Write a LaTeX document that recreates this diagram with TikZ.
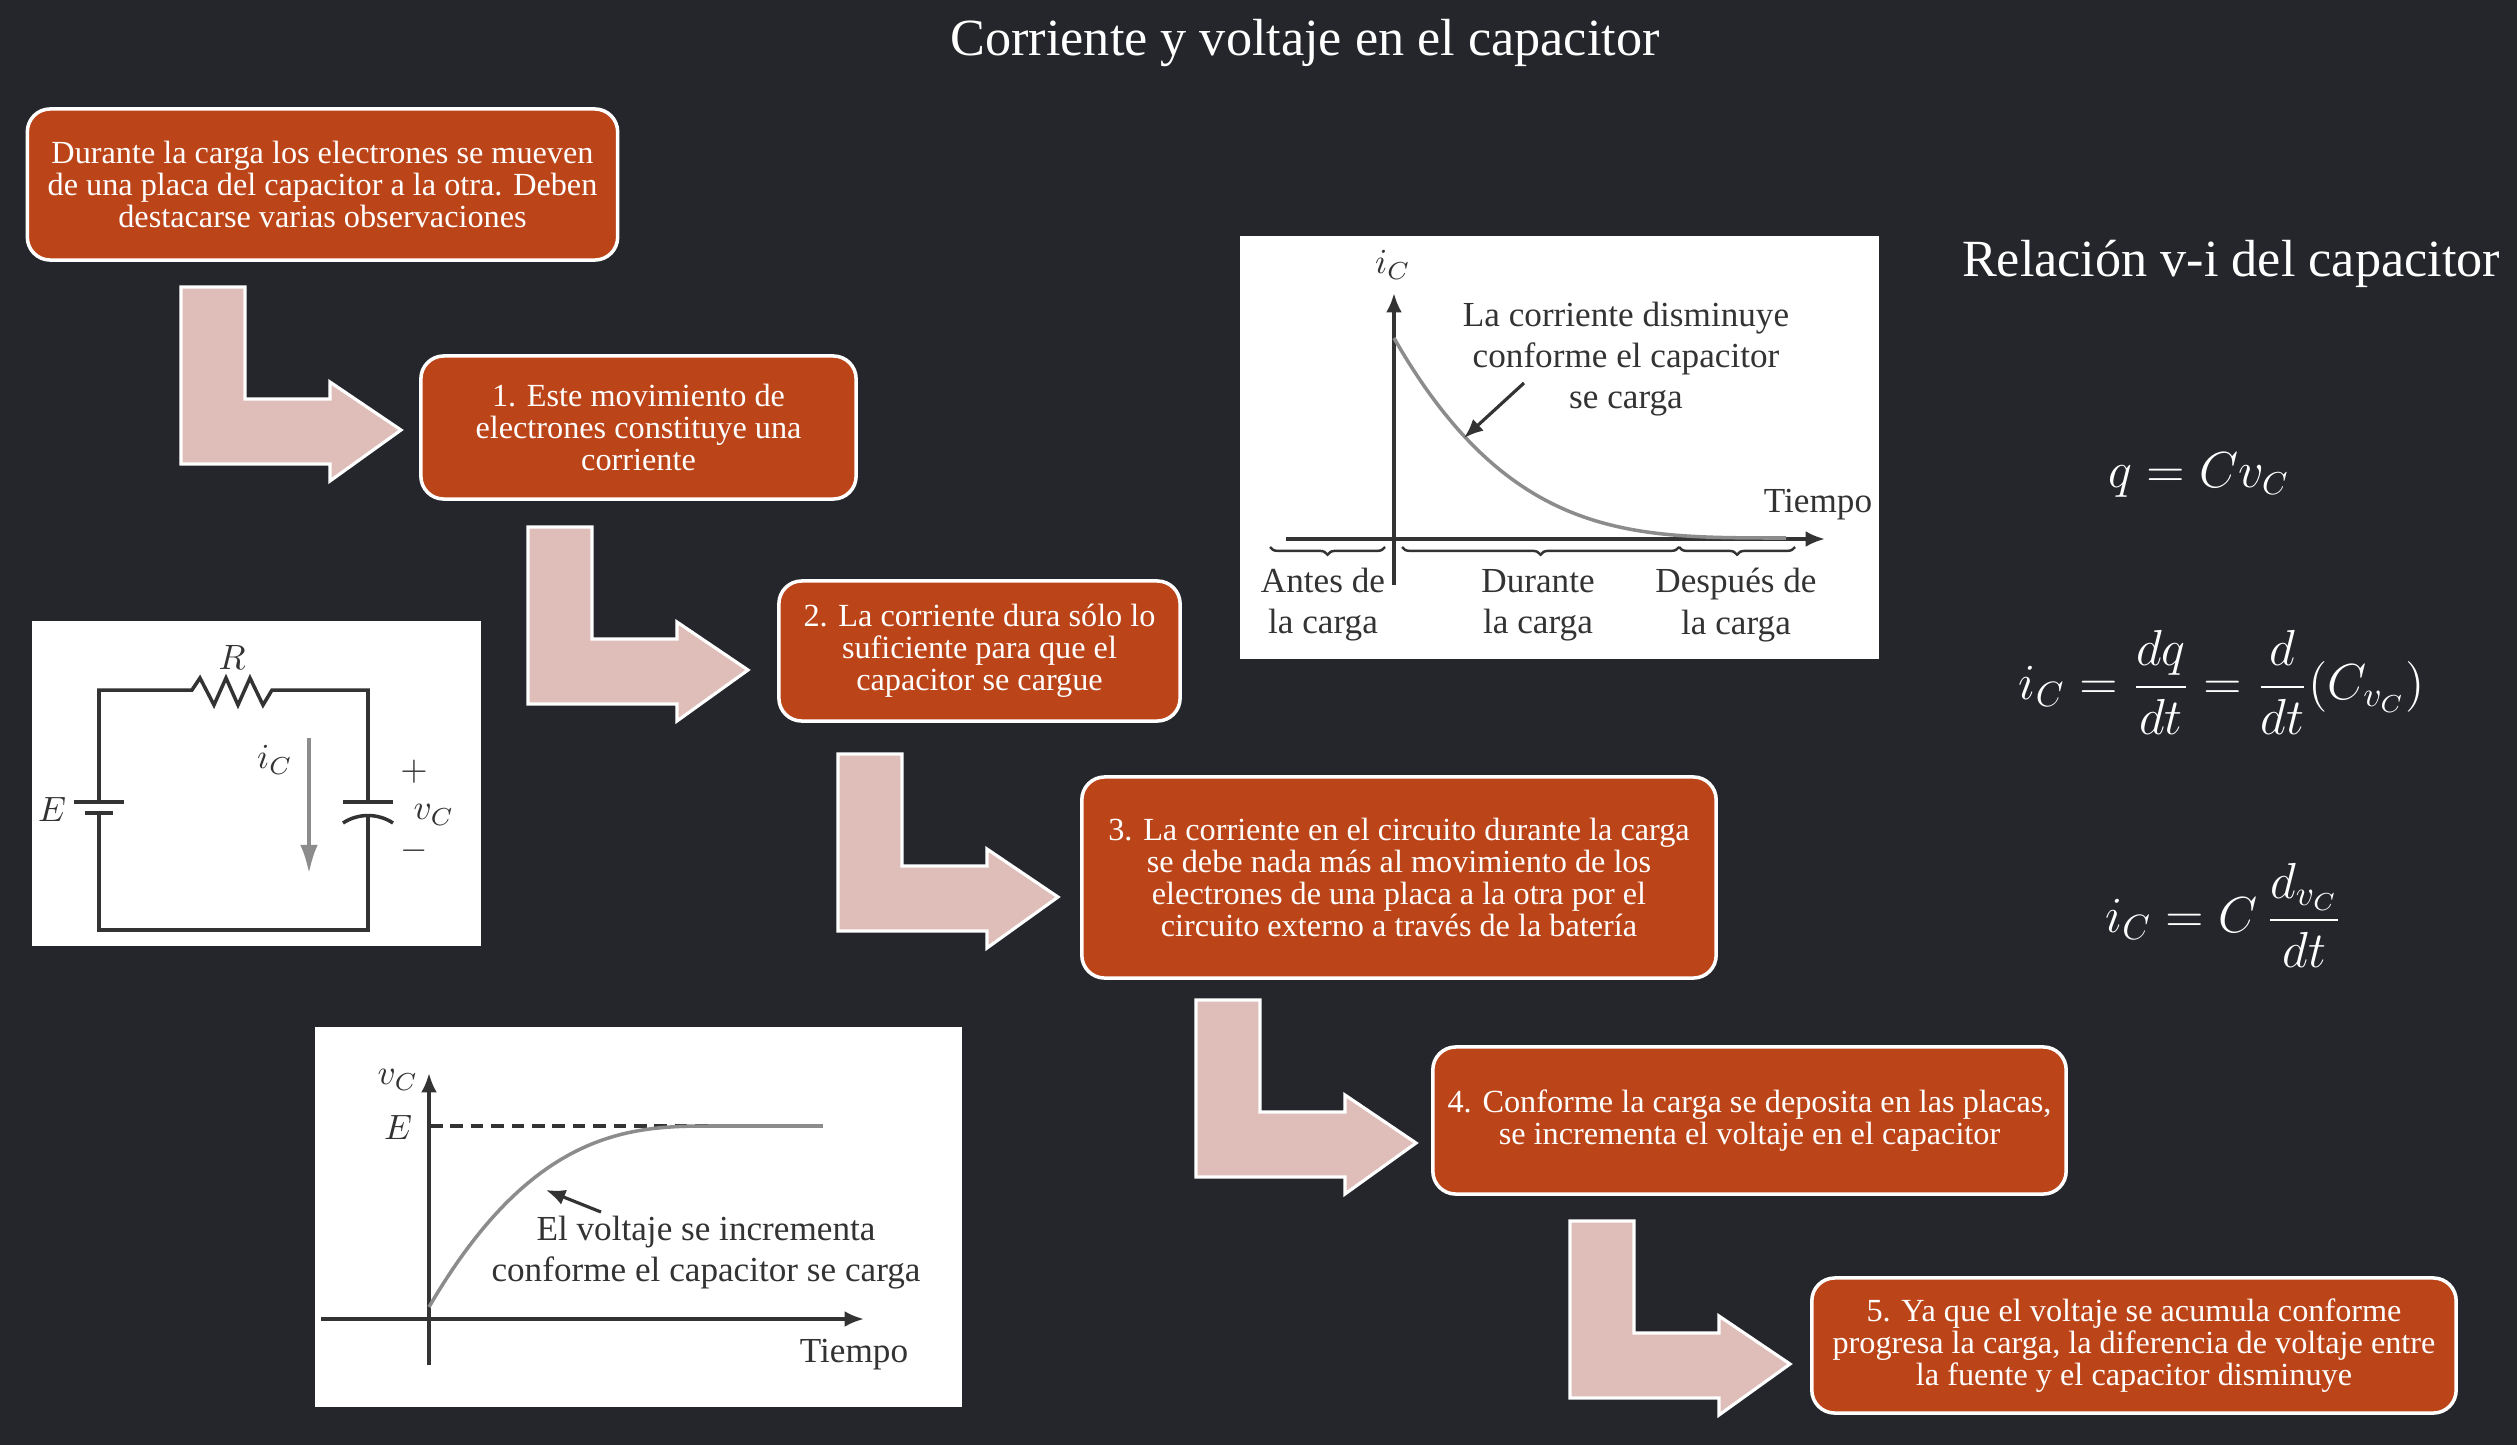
\documentclass[tikz,border=0pt]{standalone}
\usepackage{amsmath}
\usepackage{xcolor}
\usepackage{fontspec}
\setmainfont{Liberation Serif}
\usetikzlibrary{arrows.meta,decorations.pathreplacing}
\definecolor{slide}{HTML}{25262C}
\definecolor{rust}{HTML}{BB4519}
\definecolor{blush}{HTML}{DFBDB9}
\definecolor{ink}{HTML}{333333}
\definecolor{trace}{HTML}{8C8C8C}

\begin{document}
\begin{tikzpicture}[
  x=0.01cm,y=-0.01cm,
  >=Latex,
  stepcard/.style={draw=white,fill=rust,rounded corners=6.5pt,line width=1pt,inner sep=0pt,
                   align=center,text=white,font=\fontsize{9.17}{9.1}\selectfont},
  bentarrow/.style={draw=white,fill=blush,line width=0.9pt,miter limit=10},
  panel/.style={fill=white,inner sep=0pt},
  heading/.style={text=white,inner sep=0pt,font=\fontsize{14.85}{17}\selectfont},
  formula/.style={text=white,inner sep=0pt,font=\fontsize{14}{17}\selectfont},
  wire/.style={line width=1pt,draw=ink},
  axis/.style={->,line width=1pt,draw=ink,>={Latex[length=5.5pt,width=4.5pt]}},
  curve/.style={line width=1pt,draw=trace},
  pointer/.style={->,line width=0.9pt,draw=ink,>={Latex[length=5.5pt,width=4.5pt]}},
  caption/.style={text=ink,inner sep=0pt,align=center,font=\fontsize{10}{11.7}\selectfont},
  chartbrace/.style={line width=0.7pt,draw=ink,decorate,
                     decoration={brace,mirror,amplitude=2.2pt}}
]
\useasboundingbox (0,0) rectangle (2517,1445);
\fill[slide] (0,0) rectangle (2517,1445);

\node[heading] (title) at (1305,43) {Corriente y voltaje en el capacitor};
\node[heading] (relation) at (2231,264) {Relación v-i del capacitor};

% Steps
\node[stepcard,minimum width=5.9cm,minimum height=1.51cm] (intro) at (322.5,184.5)
  {Durante la carga los electrones se mueven\\
   de una placa del capacitor a la otra. Deben\\
   destacarse varias observaciones};
\node[stepcard,minimum width=4.35cm,minimum height=1.43cm] (step1) at (638.5,427.5)
  {1. Este movimiento de\\ electrones constituye una\\ corriente};
\node[stepcard,minimum width=4.01cm,minimum height=1.40cm] (step2) at (979.5,651)
  {2. La corriente dura sólo lo\\ suficiente para que el\\ capacitor se cargue};
\node[stepcard,minimum width=6.34cm,minimum height=2.01cm] (step3) at (1399,877.5)
  {3. La corriente en el circuito durante la carga\\
   se debe nada más al movimiento de los\\
   electrones de una placa a la otra por el\\
   circuito externo a través de la batería};
\node[stepcard,minimum width=6.33cm,minimum height=1.47cm] (step4) at (1749.5,1120.5)
  {4. Conforme la carga se deposita en las placas,\\
   se incrementa el voltaje en el capacitor};
\node[stepcard,minimum width=6.44cm,minimum height=1.35cm] (step5) at (2134,1345.5)
  {5. Ya que el voltaje se acumula conforme\\
   progresa la carga, la diferencia de voltaje entre\\
   la fuente y el capacitor disminuye};

% Bent arrows
\coordinate (bend1) at (181,287);
\coordinate (bend2) at (528,527);
\coordinate (bend3) at (838,754);
\coordinate (bend4) at (1196,1000);
\coordinate (bend5) at (1570,1221);
\foreach \i in {1,...,5}
  \draw[bentarrow] (bend\i) -- ++(64,0) -- ++(0,112) -- ++(85,0) -- ++(0,-17)
    -- ++(71,48) -- ++(-71,51) -- ++(0,-17) -- ++(-149,0) -- cycle;

% Circuit
\node[panel,minimum width=4.49cm,minimum height=3.25cm] (circuit) at (256.5,783.5) {};
\draw[wire] (99,802) -- (99,690) -- (192,690) -- (200,678) -- (214,705) -- (226,678)
  -- (238,705) -- (250,678) -- (263,705) -- (272,690) -- (368,690) -- (368,802);
\draw[wire] (99,813) -- (99,930) -- (368,930) -- (368,817);
\draw[wire] (74,802) -- (124,802);
\draw[wire] (85,813) -- (113,813);
\draw[wire] (343,802) -- (393,802);
\draw[wire] (343,823) .. controls (358,813) and (378,813) .. (393,823);
\coordinate (flowtop) at (309,738);
\coordinate (flowend) at (309,873);
\draw[->,line width=0.9pt,draw=trace,>={Latex[length=8pt,width=5pt]}] (flowtop) -- (flowend);
\node[caption] (rlabel) at (232,657) {$R$};
\node[caption] (elabel) at (52,809) {$E$};
\node[caption] (iclabel) at (275,760) {$i_C$};
\node[caption] (pluslabel) at (414,772) {$+$};
\node[caption] (vclabel) at (434,815) {$v_C$};
\node[caption] (minuslabel) at (414,851) {$-$};

% Current chart
\node[panel,minimum width=6.39cm,minimum height=4.23cm] (icchart) at (1559.5,447.5) {};
\draw[axis] (1394,585) -- (1394,293);
\draw[axis] (1286,539) -- (1825,539);
\draw[curve] plot[domain=0:392,samples=60,smooth] ({1394+\x},{538-200*pow(1-\x/400,3.5)});
\coordinate (icfrom) at (1524,383);
\coordinate (icto) at (1464,438);
\draw[pointer] (icfrom) -- (icto);
\draw[chartbrace] (1270,547) -- (1385,547);
\draw[chartbrace] (1402,547) -- (1679,547);
\draw[chartbrace] (1679,547) -- (1795,547);
\node[caption] (iclabeltop) at (1393,265) {$i_C$};
\node[caption] (icnote) at (1626,359) {La corriente disminuye\\ conforme el capacitor\\ se carga};
\node[caption] (ictime) at (1818,505) {Tiempo};
\node[caption] (before) at (1323,605) {Antes de\\ la carga};
\node[caption] (during) at (1538,605) {Durante\\ la carga};
\node[caption] (after) at (1736,605) {Después de\\ la carga};

% Voltage chart
\node[panel,minimum width=6.47cm,minimum height=3.80cm] (vcchart) at (638.5,1217) {};
\draw[axis] (429,1365) -- (429,1073);
\draw[axis] (321,1319) -- (864,1319);
\draw[line width=1.1pt,draw=ink,dash pattern=on 3.6pt off 2.2pt] (430,1126) -- (708,1126);
\draw[curve] (708,1126) -- (823,1126);
\draw[curve] plot[domain=0:279,samples=60,smooth] ({429+\x},{1126+181*pow(1-\x/280,2.65)});
\coordinate (vcfrom) at (601,1212);
\coordinate (vcto) at (546,1190);
\draw[pointer] (vcfrom) -- (vcto);
\node[caption] (vclabeltop) at (398,1080) {$v_C$};
\node[caption] (elabeltop) at (398,1127) {$E$};
\node[caption] (vcnote) at (706,1253) {El voltaje se incrementa\\ conforme el capacitor se carga};
\node[caption] (vctime) at (854,1355) {Tiempo};

% Formulas
\node[formula,font=\fontsize{13.4}{17}\selectfont] (chargeeq) at (2199,475) {$q = C v_C$};
\node[formula] (currenteq) at (2222,682) {$\displaystyle i_C = \frac{dq}{dt} = \frac{d}{dt}(C_{v_C})$};
\node[formula] (finaleq) at (2224,915) {$\displaystyle i_C = C\,\frac{d_{v_C}}{dt}$};

\end{tikzpicture}
\end{document}
